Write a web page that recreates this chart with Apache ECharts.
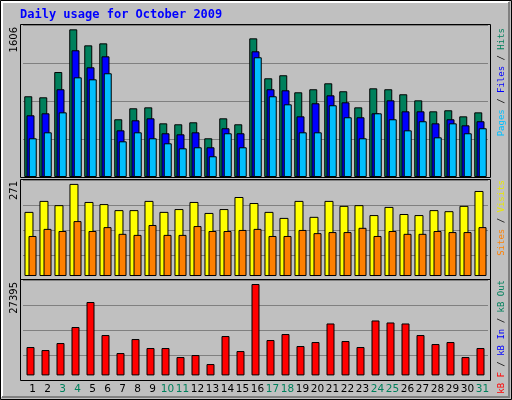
<!DOCTYPE html>
<html><head><meta charset="utf-8">
<script src="https://cdn.jsdelivr.net/npm/echarts@6/dist/echarts.min.js"></script>
<style>html,body{margin:0;padding:0;background:#C0C0C0}#c{width:512px;height:400px}</style>
</head><body><div id="c"></div>
<script>
const days = ['1','2','3','4','5','6','7','8','9','10','11','12','13','14','15','16','17','18','19','20','21','22','23','24','25','26','27','28','29','30','31'];
const weekend = ['3','4','10','11','17','18','24','25','31'];
const hits  = [853,842,1109,1560,1391,1412,610,726,736,567,557,578,409,620,557,1465,1043,1075,895,927,990,906,736,937,927,874,810,694,705,641,683];
const files = [652,673,927,1339,1159,1275,493,599,620,462,451,472,314,515,462,1328,927,916,641,779,863,789,631,673,810,694,694,567,610,546,589];
const pages = [409,472,683,1053,1032,1096,377,472,409,356,303,314,219,462,314,1265,853,768,472,472,758,631,409,673,610,493,589,419,567,462,515];
const visits = [181,212,200,260,209,203,186,186,212,181,189,209,178,189,223,206,181,164,212,167,212,198,200,172,195,175,172,186,183,198,240];
const sites  = [113,133,127,155,127,138,119,116,144,116,116,141,127,127,130,133,113,113,130,121,124,124,136,113,127,119,119,127,124,124,138];
const kbF = [8142,7280,9292,13890,21074,11591,6418,10441,7855,7855,5268,5843,3257,11303,6993,26246,10154,11878,8429,9580,14909,9868,8142,15770,15196,14909,11591,9005,9580,5268,7855];
const topMax = 1606, midMax = 271, botMax = 27395;

const FONT = 'DejaVu Sans Mono';
const chart = echarts.init(document.getElementById('c'));
const grids = [
  {left:23, width:465, top:25, height:152},
  {left:23, width:465, top:180, height:100},
  {left:23, width:465, top:280, height:100}
];
const xAxes = [0,1,2].map(i => ({
  type:'category', data:days, gridIndex:i, boundaryGap:true,
  axisLine:{show:false}, axisTick:{show:false},
  axisLabel: i<2 ? {show:false} : {show:true, interval:0, margin:4, fontFamily:'DejaVu Sans', fontSize:10.5, padding:[0,0,0,4],
     color:(v)=> weekend.includes(v)?'#00805C':'#000'}
}));
function hiddenGridAxis(g){return {type:'value',gridIndex:g,min:0,max:4,interval:1,axisLabel:{show:false},axisLine:{show:false},axisTick:{show:false},splitLine:{show:true,lineStyle:{color:'#808080',width:1}}};}
function dataAxis(g,min,max){return {type:'value',gridIndex:g,min:min,max:max,axisLabel:{show:false},axisLine:{show:false},axisTick:{show:false},splitLine:{show:false}};}
const yAxes = [
  hiddenGridAxis(0), dataAxis(0,0,topMax),
  hiddenGridAxis(1), dataAxis(1,-11.3,midMax),
  hiddenGridAxis(2), dataAxis(2,-1321,botMax)
];
const bs = {borderColor:'#000',borderWidth:1};
const series = [
  {type:'bar',xAxisIndex:0,yAxisIndex:1,data:hits,barWidth:8,barGap:'-72%',itemStyle:Object.assign({color:'#00805C'},bs)},
  {type:'bar',xAxisIndex:0,yAxisIndex:1,data:files,barWidth:8,barGap:'-72%',itemStyle:Object.assign({color:'#0000FF'},bs)},
  {type:'bar',xAxisIndex:0,yAxisIndex:1,data:pages,barWidth:8,barGap:'-72%',itemStyle:Object.assign({color:'#00C0FF'},bs)},
  {type:'bar',xAxisIndex:1,yAxisIndex:3,data:visits,barWidth:9,barGap:'-55%',itemStyle:Object.assign({color:'#FFFF00'},bs)},
  {type:'bar',xAxisIndex:1,yAxisIndex:3,data:sites,barWidth:8,barGap:'-55%',itemStyle:Object.assign({color:'#FF8000'},bs)},
  {type:'bar',xAxisIndex:2,yAxisIndex:5,data:kbF,barWidth:8,itemStyle:Object.assign({color:'#FF0000'},bs)}
];
const FS = 9;
function vtext(x,y,str,fs,fam){
  return {type:'text',x:x,y:y,rotation:Math.PI/2,z:10,style:{text:str,rich:rich,align:'right',verticalAlign:'middle',fontFamily:fam||FONT,fontSize:fs||FS,fill:'#000'}};
}
const mk = c => ({fill:c,fontFamily:FONT,fontSize:FS});
const rich = {
  p:mk('#00C0FF'), f:mk('#0000FF'), h:mk('#00805C'),
  v:mk('#E8E800'), s:mk('#FF8000'),
  r:mk('#FF0000'), b:mk('#0000FF'), g:mk('#00805C'), k:mk('#000')
};
const frame = (y1,y2)=>({type:'rect',z:5,shape:{x:20.5,y:y1+0.5,width:470,height:y2-y1},style:{fill:null,stroke:'#000',lineWidth:1}});
const graphic = [
  {type:'rect',z:-1,shape:{x:0.5,y:0.5,width:511,height:399},style:{fill:'#C0C0C0',stroke:'#000',lineWidth:1}},
  {type:'polyline',z:1,shape:{points:[[2,397],[2,2],[509,2]]},style:{stroke:'#fff',lineWidth:2,fill:null}},
  {type:'polyline',z:1,shape:{points:[[509,2],[509,397],[2,397]]},style:{stroke:'#808080',lineWidth:2,fill:null}},
  frame(24,177), frame(179,279), frame(279,380),
  {type:'text',x:20,y:15,z:10,style:{text:'Daily usage for October 2009',fontFamily:FONT,fontSize:12,fontWeight:'bold',fill:'#0000FF',verticalAlign:'middle'}},
  vtext(14,27,String(topMax),10,'DejaVu Sans'),
  vtext(14,181,String(midMax),10,'DejaVu Sans'),
  vtext(14,282,String(botMax),10,'DejaVu Sans'),
  vtext(502,28,'{p|Pages} {k|/} {f|Files} {k|/} {h|Hits}'),
  vtext(502,180,'{s|Sites} {k|/} {v|Visits}'),
  vtext(502,280,'{r|kB F} {k|/} {b|kB In} {k|/} {g|kB Out}')
];
chart.setOption({backgroundColor:'#C0C0C0',animation:false,grid:grids,xAxis:xAxes,yAxis:yAxes,series:series,graphic:graphic});
</script></body></html>
